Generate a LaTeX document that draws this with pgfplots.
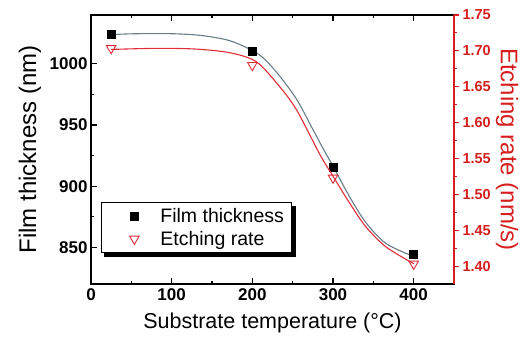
\documentclass[border=0pt]{standalone}
\usepackage{pgfplots}
\pgfplotsset{compat=1.18}
\usepackage{fontspec}
\setmainfont{Liberation Sans}
\usetikzlibrary{backgrounds}
\definecolor{cgray}{RGB}{105,125,135}
\definecolor{cred}{RGB}{225,45,55}
\definecolor{axred}{RGB}{215,30,30}
\begin{document}
\begin{tikzpicture}
\path[use as bounding box] (-91bp,-56bp) rectangle (434bp,284bp);
\begin{axis}[
  scale only axis, width=363bp, height=269bp,
  xmin=0, xmax=450, ymin=820, ymax=1040,
  xtick={0,100,200,300,400}, ytick={850,900,950,1000},
  minor x tick num=1, minor y tick num=1,
  tick align=inside, xtick pos=both, xticklabel pos=lower, ytick pos=left,
  major tick length=6bp, minor tick length=3.5bp,
  axis line style={line width=1.3bp},
  tick style={line width=1.1bp, black},
  tick label style={font=\fontsize{17bp}{17bp}\selectfont\bfseries},
  /pgf/number format/assume math mode=true,
  /pgf/number format/1000 sep={},
  xticklabel style={yshift=-1bp},
  xlabel={Substrate temperature (°C)},
  xlabel style={at={(axis description cs:0.5,-0.145)}, anchor=center, font=\fontsize{21.5bp}{21.5bp}\selectfont},
  ylabel={Film thickness (nm)},
  ylabel style={at={(axis description cs:-0.168,0.5)}, anchor=center, font=\fontsize{24bp}{24bp}\selectfont},
]
\addplot[cgray, line width=1.1bp, smooth] coordinates {
 (25,1024.0) (50,1024.6) (80,1024.8) (110,1024.5) (140,1023.0) (172,1019.0)
 (200,1011.0) (215,1004) (234,990) (255,971) (275,946.5) (290,928) (300,916.5)
 (320,892) (341,870) (366,853) (400,842.5)
};
\addplot[only marks, mark=square*, mark size=4bp, black] coordinates {
 (25,1024) (200,1010.5) (300,915.5) (400,844.5)
};
\end{axis}
\begin{axis}[
  scale only axis, width=363bp, height=269bp,
  xmin=0, xmax=450, ymin=1.375, ymax=1.75,
  axis x line=none, axis y line*=right,
  y axis line style={axred, line width=1.3bp},
  ytick={1.40,1.45,1.50,1.55,1.60,1.65,1.70,1.75},
  minor y tick num=1, tick align=outside,
  major tick length=5bp, minor tick length=3bp,
  tick style={line width=1.1bp, axred},
  yticklabel style={axred, font=\fontsize{14.5bp}{14.5bp}\selectfont\bfseries,
    /pgf/number format/fixed, /pgf/number format/fixed zerofill, /pgf/number format/precision=2},
  /pgf/number format/assume math mode=true,
  ylabel={Etching rate (nm/s)},
  ylabel style={axred, at={(axis description cs:1.146,0.5)}, anchor=center, rotate=180, font=\fontsize{24bp}{24bp}\selectfont},
  legend cell align=left,
  legend style={name=leg, at={(axis description cs:0.0275,0.115)}, anchor=south west,
    draw=black, line width=0.8bp, fill=white,
    font=\fontsize{19.5bp}{19.5bp}\selectfont, inner xsep=6bp, inner ysep=4bp,
    /tikz/every odd column/.append style={column sep=12bp}, row sep=3bp},
  legend image code/.code={\path[draw=none, fill=none, draw opacity=0] (-27bp,0bp) -- (12bp,0bp); \draw[#1] plot coordinates {(0bp,0bp)};},
]
\addlegendimage{only marks, mark=square*, mark size=4bp, black}
\addlegendentry{Film thickness}
\addplot[cred, line width=1.1bp, smooth, forget plot] coordinates {
 (25,1.702) (81,1.7035) (130,1.7025) (172,1.6974) (205,1.6848) (234,1.6499)
 (255,1.6174) (284,1.555) (298,1.529) (321,1.4871) (341,1.4544) (366,1.4265) (400,1.4033)
};
\addplot[only marks, mark=triangle, mark size=5.5bp, mark options={rotate=180, fill=white, draw=cred, line width=0.9bp}] coordinates {
 (25,1.7035) (200,1.680) (300,1.523) (400,1.403)
};
\addlegendentry{Etching rate}
\end{axis}
\begin{scope}[on background layer]
\fill[black] ([shift={(3.5bp,-3.5bp)}]leg.south west) rectangle ([shift={(3.5bp,-3.5bp)}]leg.north east);
\end{scope}
\end{tikzpicture}
\end{document}
